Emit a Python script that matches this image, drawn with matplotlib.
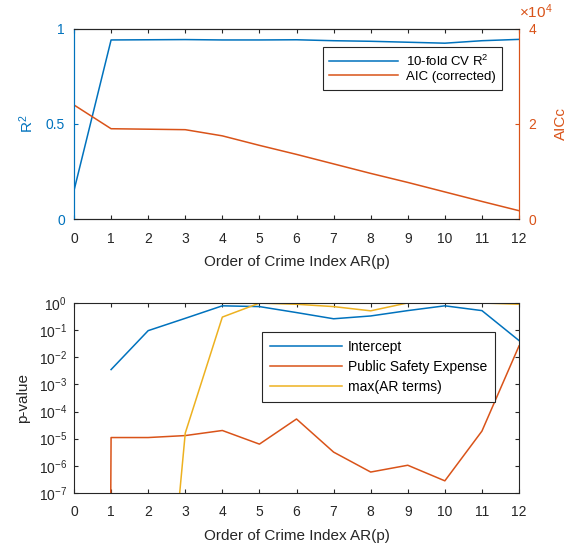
import numpy as np
import matplotlib
matplotlib.use("Agg")
import matplotlib.pyplot as plt

plt.rcParams['font.family'] = ['Liberation Sans', 'DejaVu Sans']
plt.rcParams['mathtext.default'] = 'regular'
plt.rcParams['xtick.direction'] = 'in'
plt.rcParams['ytick.direction'] = 'in'

# data
order = np.arange(0, 13)
cv_r2 = [0.15, 0.942, 0.943, 0.944, 0.942, 0.942, 0.943, 0.938, 0.935, 0.93, 0.925, 0.938, 0.945]
aicc = [2.4e4, 1.9e4, 1.89e4, 1.88e4, 1.75e4, 1.55e4, 1.36e4, 1.16e4, 0.96e4, 0.77e4, 0.57e4, 0.37e4, 0.175e4]

p_intercept = [np.nan, 3.5e-3, 0.095, 0.27, 0.78, 0.73, 0.44, 0.26, 0.33, 0.52, 0.78, 0.52, 0.041]
p_safety = [1e-250, 1.1e-5, 1.1e-5, 1.3e-5, 2.0e-5, 6.3e-6, 5.3e-5, 3.2e-6, 5.9e-7, 1.05e-6, 2.8e-7, 1.9e-5, 0.026]
p_ar_max = [np.nan, 1e-30, 3e-20, 1.6e-5, 0.3, 0.98, 0.89, 0.73, 0.51, 1.0, 0.99, 0.99, 0.89]

blue = (0, 0.447, 0.741)
orange = (0.85, 0.325, 0.098)
yellow = (0.929, 0.694, 0.125)
gray = (0.15, 0.15, 0.15)

fig = plt.figure(figsize=(5.79, 5.51), dpi=100)

# ---- top: R^2 and AICc
ax1 = fig.add_axes([0.1278, 0.6025, 0.7686, 0.345])
ax1.plot(order, cv_r2, color=blue, lw=1.1, label='10-fold CV R$^2$')
ax1.set_xlim(0, 12)
ax1.set_ylim(0, 1)
ax1.set_xticks(order)
ax1.set_yticks([0, 0.5, 1])
ax1.set_yticklabels(['0', '0.5', '1'])
ax1.tick_params(axis='x', top=True, colors=gray, labelsize=10, length=3, pad=9)
ax1.tick_params(axis='y', colors=blue, labelsize=10, length=3, pad=6.5)
ax1.set_xlabel('Order of Crime Index AR(p)', fontsize=11, color=gray, labelpad=7)
ax1.set_ylabel('R$^2$', fontsize=11, color=blue, labelpad=7)

ax2 = ax1.twinx()
ax2.plot(order, aicc, color=orange, lw=1.1, label='AIC (corrected)')
ax2.set_ylim(0, 4e4)
ax2.set_yticks([0, 2e4, 4e4])
ax2.ticklabel_format(axis='y', style='sci', scilimits=(0, 0), useMathText=True)
ax2.yaxis.get_offset_text().set_visible(False)
ax2.text(1.0, 1.04, r'$\times10^{4}$', transform=ax2.transAxes, ha='left', va='bottom',
         color=orange, fontsize=11)
ax2.tick_params(axis='y', colors=orange, labelsize=10, length=3, pad=6.5)
ax2.set_ylabel('AICc', fontsize=11, color=orange, labelpad=12)

for ax in (ax1, ax2):
    ax.spines['top'].set_color(gray)
    ax.spines['bottom'].set_color(gray)
    ax.spines['left'].set_color(blue)
    ax.spines['right'].set_color(orange)

h1, l1 = ax1.get_legend_handles_labels()
h2, l2 = ax2.get_legend_handles_labels()
leg = ax2.legend(h1 + h2, l1 + l2, loc='upper right', bbox_to_anchor=(0.962, 0.905),
                 borderaxespad=0, fontsize=9.5, fancybox=False, framealpha=1,
                 edgecolor=gray, handlelength=5.2, handletextpad=0.6,
                 borderpad=0.5, labelspacing=0.15)
leg.get_frame().set_linewidth(0.8)

# ---- bottom: p-values
ax3 = fig.add_axes([0.1278, 0.1053, 0.7686, 0.345])
ax3.plot(order, p_intercept, color=blue, lw=1.1, label='Intercept')
ax3.plot(order, p_safety, color=orange, lw=1.1, label='Public Safety Expense')
ax3.plot(order, p_ar_max, color=yellow, lw=1.1, label='max(AR terms)')
ax3.set_yscale('log')
ax3.set_xlim(0, 12)
ax3.set_ylim(1e-7, 1)
ax3.set_xticks(order)
ax3.set_yticks([10.0 ** k for k in range(-7, 1)])
ax3.yaxis.set_minor_locator(matplotlib.ticker.NullLocator())
ax3.tick_params(axis='both', top=True, right=True, colors=gray, labelsize=10, length=3)
ax3.tick_params(axis='x', pad=9)
ax3.tick_params(axis='y', pad=5)
ax3.set_xlabel('Order of Crime Index AR(p)', fontsize=11, color=gray, labelpad=7)
ax3.set_ylabel('p-value', fontsize=11, color=gray, labelpad=6)
for s in ax3.spines.values():
    s.set_color(gray)
leg3 = ax3.legend(loc='upper right', bbox_to_anchor=(0.946, 0.847), borderaxespad=0,
                  fontsize=10, fancybox=False, framealpha=1, edgecolor=gray,
                  handlelength=5.2, handletextpad=0.45, borderpad=0.55, labelspacing=0.45)
leg3.get_frame().set_linewidth(0.8)

fig.savefig('out.png', dpi=100)
